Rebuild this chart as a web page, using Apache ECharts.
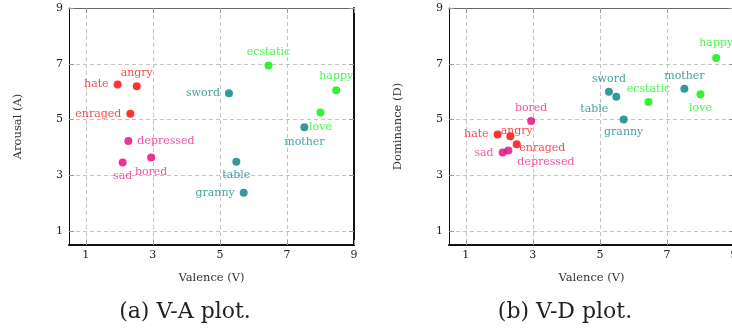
<!DOCTYPE html>
<html>
<head>
<meta charset="utf-8">
<script src="https://cdn.jsdelivr.net/npm/echarts@6/dist/echarts.min.js"></script>
<style>
html,body{margin:0;padding:0;background:#fff;}
#chart{width:732px;height:329px;}
</style>
</head>
<body>
<div id="chart"></div>
<script>
const words = ['hate','angry','enraged','depressed','sad','bored','sword','table','granny','mother','ecstatic','happy','love'];
const groups = ['red','red','red','pink','pink','pink','teal','teal','teal','teal','green','green','green'];
const valence = [1.95, 2.52, 2.33, 2.27, 2.10, 2.95, 5.27, 5.49, 5.71, 7.52, 6.45, 8.47, 8.00];
const arousal = [6.26, 6.19, 5.21, 4.23, 3.46, 3.64, 5.94, 3.49, 2.37, 4.72, 6.94, 6.05, 5.25];
const dominance = [4.46, 4.11, 4.40, 3.89, 3.82, 4.95, 6.00, 5.82, 5.00, 6.10, 5.63, 7.21, 5.91];
const tickValues = [1, 3, 5, 7, 9];
const axisMin = 0.5, axisMax = 9;
const captions = ['(a) V-A plot.', '(b) V-D plot.'];
const xName = 'Valence (V)';
const yNames = ['Arousal (A)', 'Dominance (D)'];

const colors = {red:'#ff0000', pink:'#e6007e', teal:'#008080', green:'#00f000'};
const labelColors = {red:'#ff1a1a', pink:'#ec2a92', teal:'#1a8a8a', green:'#1af51a'};

// label placement (style only)
const posA = {
  hate:['left',[0,0]], angry:['top',[0,1]], enraged:['left',[0,0]], depressed:['right',[0,0]],
  sad:['bottom',[0,-1]], bored:['bottom',[0,0]], sword:['left',[0,0]], table:['bottom',[0,-1]],
  granny:['left',[0,0]], mother:['bottom',[0,0]], ecstatic:['top',[0,1]], happy:['top',[0,0]], love:['bottom',[0,0]]
};
const posD = {
  hate:['left',[0,0]], angry:['top',[0,1]], enraged:['right',[0,12]], depressed:['right',[0,12]],
  sad:['left',[0,1]], bored:['top',[0,2]], sword:['top',[0,2]], table:['left',[1,12]],
  granny:['bottom',[0,-2]], mother:['top',[0,2]], ecstatic:['top',[0,2]], happy:['top',[0,0]], love:['bottom',[0,-1]]
};

const FONT = 'DejaVu Serif';

function buildData(ys, pos) {
  return words.map((w, i) => ({
    name: w,
    value: [valence[i], ys[i]],
    itemStyle: {color: colors[groups[i]]},
    label: {
      show: true, formatter: w, position: pos[w][0], offset: pos[w][1], distance: 5,
      color: labelColors[groups[i]], fontFamily: FONT, fontSize: 11
    }
  }));
}

const gridL = {left: 69, top: 8, width: 285, height: 237, outerBoundsMode: 'none', containLabel: false};
const gridR = {left: 449, top: 8, width: 285, height: 237, outerBoundsMode: 'none', containLabel: false};

function mainX(gi) {
  return {
    type:'value', gridIndex: gi, min: axisMin, max: axisMax, position:'bottom',
    name: xName, nameLocation:'middle', nameGap: 27,
    nameTextStyle:{fontFamily: FONT, fontSize: 11.5, color:'#333'},
    axisLine:{show:true, onZero:false, lineStyle:{color:'#111', width:2}},
    axisTick:{show:true, inside:true, length:5, customValues: tickValues, lineStyle:{color:'#999'}},
    axisLabel:{show:true, customValues: tickValues, margin: 5, fontFamily: FONT, fontSize: 11, color:'#222'},
    splitLine:{show:true, lineStyle:{color:'#c4c4c4', type:[4,3], width:1}}
  };
}
function topX(gi) {
  return {
    type:'value', gridIndex: gi, min: axisMin, max: axisMax, position:'top',
    axisLine:{show:true, onZero:false, lineStyle:{color:'#666', width:1}},
    axisTick:{show:true, inside:true, length:5, customValues: tickValues, lineStyle:{color:'#999'}},
    axisLabel:{show:false}, splitLine:{show:false}
  };
}
function mainY(gi, name) {
  return {
    type:'value', gridIndex: gi, min: axisMin, max: axisMax, position:'left',
    name: name, nameLocation:'middle', nameGap: 45, nameRotate: 90,
    nameTextStyle:{fontFamily: FONT, fontSize: 11.5, color:'#333'},
    axisLine:{show:true, onZero:false, lineStyle:{color:'#111', width:1}},
    axisTick:{show:true, inside:true, length:5, customValues: tickValues, lineStyle:{color:'#999'}},
    axisLabel:{show:true, customValues: tickValues, margin: 6, fontFamily: FONT, fontSize: 11, color:'#222'},
    splitLine:{show:true, lineStyle:{color:'#c4c4c4', type:[4,3], width:1}}
  };
}
function rightY(gi) {
  return {
    type:'value', gridIndex: gi, min: axisMin, max: axisMax, position:'right',
    axisLine:{show:true, onZero:false, lineStyle:{color:'#111', width:2}},
    axisTick:{show:true, inside:true, length:5, customValues: tickValues, lineStyle:{color:'#999'}},
    axisLabel:{show:false}, splitLine:{show:false}
  };
}

const chart = echarts.init(document.getElementById('chart'), null, {renderer:'canvas'});
chart.setOption({
  animation: false,
  backgroundColor: '#fff',
  grid: [gridL, gridR],
  xAxis: [mainX(0), topX(0), mainX(1), topX(1)],
  yAxis: [mainY(0, yNames[0]), rightY(0), mainY(1, yNames[1]), rightY(1)],
  series: [
    {type:'scatter', xAxisIndex:0, yAxisIndex:0, symbolSize:8, data: buildData(arousal, posA)},
    {type:'scatter', xAxisIndex:2, yAxisIndex:2, symbolSize:8, data: buildData(dominance, posD)}
  ],
  graphic: [
    {type:'text', x:185, y:312, style:{text: captions[0], font:'22px "DejaVu Serif"', fill:'#222', textAlign:'center', textVerticalAlign:'middle'}},
    {type:'text', x:565, y:312, style:{text: captions[1], font:'22px "DejaVu Serif"', fill:'#222', textAlign:'center', textVerticalAlign:'middle'}}
  ]
});
</script>
</body>
</html>
